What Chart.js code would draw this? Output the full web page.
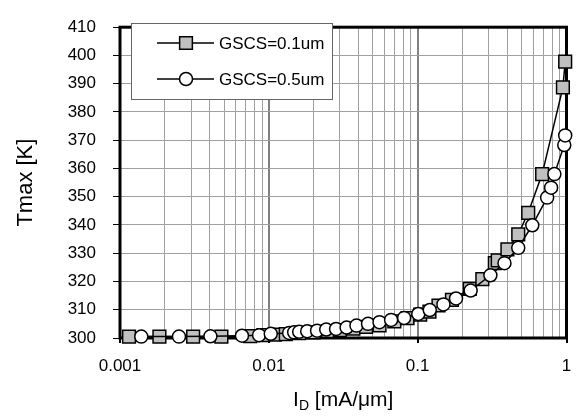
<!DOCTYPE html>
<html>
<head>
<meta charset="utf-8">
<script src="https://cdn.jsdelivr.net/npm/chart.js@4.4.1/dist/chart.umd.min.js"></script>
<style>
    html,body{margin:0;padding:0;background:#fff;}
    #wrap{width:577px;height:416px;}
</style>
</head>
<body>
<div id="wrap"><canvas id="myChart" width="577" height="416"></canvas></div>
<script>
// tick labels
var xTickLabels = [0.001, 0.01, 0.1, 1];
var yTickLabels = [300, 310, 320, 330, 340, 350, 360, 370, 380, 390, 400, 410];

// GSCS=0.1um (squares)
var idSquare = [0.00115, 0.00184, 0.0031, 0.0048, 0.0075, 0.0092, 0.011, 0.013, 0.016, 0.02, 0.025, 0.03, 0.037, 0.045,
    0.0554, 0.0697, 0.0855, 0.104, 0.12, 0.138, 0.17, 0.224, 0.272, 0.33, 0.345, 0.401, 0.474, 0.553, 0.686, 0.946, 0.98];
var tSquare = [300.5, 300.5, 300.5, 300.5, 300.7, 301.0, 301.2, 301.4, 301.7, 302.0, 302.4, 302.8, 303.3, 303.9,
    304.5, 305.9, 307.0, 308.3, 309.3, 311.5, 313.5, 317.4, 320.8, 326.5, 327.5, 331.4, 336.7, 344.3, 358.0, 388.7, 397.8];

// GSCS=0.5um (circles)
var idCircle = [0.00139, 0.00249, 0.00405, 0.0066, 0.0086, 0.0103, 0.0137, 0.0148, 0.016, 0.0181, 0.0211, 0.0243, 0.0283,
    0.0333, 0.0388, 0.0464, 0.0554, 0.0663, 0.0811, 0.101, 0.1206, 0.149, 0.181, 0.227, 0.308, 0.383, 0.474, 0.589,
    0.741, 0.788, 0.829, 0.966, 0.98];
var tCircle = [300.5, 300.5, 300.6, 300.8, 301.0, 301.5, 301.8, 302.0, 302.2, 302.4, 302.6, 303.0, 303.2,
    303.7, 304.4, 305.0, 305.6, 306.4, 307.1, 308.5, 309.9, 311.9, 314.0, 316.8, 322.2, 326.5, 331.9, 339.9,
    349.7, 353.2, 358.0, 368.3, 371.7];

var FONT = "'Liberation Sans', Arial, sans-serif";

function toPoints(xs, ys){
    var pts = [];
    for(var i = 0; i < xs.length; i++){
        pts.push({x: xs[i], y: ys[i]});
    }
    return pts;
}
function isDecade(v){
    for(var i = 0; i < xTickLabels.length; i++){
        if(Math.abs(v - xTickLabels[i]) < xTickLabels[i] * 1e-6) return true;
    }
    return false;
}

// black frame round the plot, under the markers
var framePlugin = {
    id: 'frame',
    beforeDatasetsDraw: function(chart){
        var a = chart.chartArea, ctx = chart.ctx;
        ctx.save();
        ctx.strokeStyle = '#000';
        ctx.lineWidth = 3;
        ctx.strokeRect(a.left, a.top, a.right - a.left, a.bottom - a.top);
        ctx.restore();
    }
};

// excel style legend (line through marker) and the x title with subscript
var legendPlugin = {
    id: 'xlLegend',
    afterDraw: function(chart){
        var ctx = chart.ctx;
        ctx.save();
        ctx.fillStyle = '#fff';
        ctx.strokeStyle = '#666';
        ctx.lineWidth = 1;
        ctx.fillRect(131.5, 23.5, 201, 76);
        ctx.strokeRect(131.5, 23.5, 201, 76);
        var rows = [43, 79];
        chart.data.datasets.forEach(function(ds, i){
            var y = rows[i];
            ctx.strokeStyle = '#000';
            ctx.lineWidth = 1.5;
            ctx.beginPath(); ctx.moveTo(157, y); ctx.lineTo(214, y); ctx.stroke();
            ctx.fillStyle = ds.pointBackgroundColor;
            ctx.beginPath();
            if(ds.pointStyle === 'rect'){
                var s = Math.SQRT1_2 * ds.pointRadius;
                ctx.rect(186 - s, y - s, 2 * s, 2 * s);
            }else{
                ctx.arc(186, y, ds.pointRadius, 0, Math.PI * 2);
            }
            ctx.fill(); ctx.stroke();
            ctx.fillStyle = '#000';
            ctx.font = '17px ' + FONT;
            ctx.textBaseline = 'middle';
            ctx.textAlign = 'left';
            ctx.fillText(ds.label, 219, y + 1);
        });

        // x title: I_D [mA/um]
        var a = chart.chartArea;
        var cx = (a.left + a.right) / 2, base = 406;
        var big = '21px ' + FONT, small = '14px ' + FONT;
        ctx.font = big; var w1 = ctx.measureText('I').width;
        ctx.font = small; var w2 = ctx.measureText('D').width;
        ctx.font = big; var w3 = ctx.measureText(' [mA/\u03bcm]').width;
        var x0 = cx - (w1 + w2 + w3) / 2;
        ctx.textBaseline = 'alphabetic';
        ctx.font = big; ctx.fillText('I', x0, base);
        ctx.font = small; ctx.fillText('D', x0 + w1, base + 4);
        ctx.font = big; ctx.fillText(' [mA/\u03bcm]', x0 + w1 + w2, base);
        ctx.restore();
    }
};

new Chart(document.getElementById('myChart').getContext('2d'), {
    type: 'scatter',
    data: {
        datasets: [{
            label: 'GSCS=0.1um',
            data: toPoints(idSquare, tSquare),
            showLine: true,
            borderColor: '#000',
            borderWidth: 1.5,
            pointStyle: 'rect',
            pointRadius: 9,
            pointHoverRadius: 9,
            pointBackgroundColor: '#c0c0c0',
            pointBorderColor: '#000',
            pointBorderWidth: 1.5,
            clip: false,
            order: 1
        }, {
            label: 'GSCS=0.5um',
            data: toPoints(idCircle, tCircle),
            showLine: true,
            borderColor: '#000',
            borderWidth: 1.5,
            pointStyle: 'circle',
            pointRadius: 6.5,
            pointHoverRadius: 6.5,
            pointBackgroundColor: '#fff',
            pointBorderColor: '#000',
            pointBorderWidth: 1.5,
            clip: false,
            order: 0
        }]
    },
    options: {
        responsive: false,
        devicePixelRatio: 1,
        animation: false,
        layout: {padding: {top: 17, right: 4, left: 0, bottom: 0}},
        plugins: {legend: {display: false}, tooltip: {enabled: false}},
        scales: {
            x: {
                type: 'logarithmic',
                min: 0.001,
                max: 1,
                afterBuildTicks: function(scale){
                    var t = [];
                    for(var d = 0; d < xTickLabels.length; d++){
                        for(var m = 1; m <= 9; m++){
                            var v = xTickLabels[d] * m;
                            if(v <= 1.0000001) t.push({value: v, major: m === 1});
                        }
                    }
                    scale.ticks = t;
                },
                afterFit: function(scale){
                    scale.height = 78;
                    scale.paddingLeft = 0;
                    scale.paddingRight = 0;
                },
                border: {display: false},
                grid: {
                    color: function(c){ return c.tick && isDecade(c.tick.value) ? '#808080' : '#a0a0a0'; },
                    lineWidth: function(c){ return c.tick && isDecade(c.tick.value) ? 2 : 1; },
                    tickColor: function(c){ return c.tick && isDecade(c.tick.value) ? '#000' : 'rgba(0,0,0,0)'; },
                    tickLength: 5
                },
                ticks: {
                    autoSkip: false,
                    maxRotation: 0,
                    padding: 13,
                    color: '#000',
                    font: {family: FONT, size: 17},
                    callback: function(v){ return isDecade(v) ? String(v) : ''; }
                }
            },
            y: {
                min: yTickLabels[0],
                max: yTickLabels[yTickLabels.length - 1],
                afterBuildTicks: function(scale){
                    scale.ticks = yTickLabels.map(function(v){ return {value: v}; });
                },
                afterFit: function(scale){ scale.width = 120; },
                border: {display: false},
                grid: {color: '#a0a0a0', lineWidth: 1, tickColor: '#000', tickLength: 7},
                ticks: {
                    padding: 17,
                    color: '#000',
                    font: {family: FONT, size: 17}
                },
                title: {
                    display: true,
                    text: 'Tmax [K]',
                    color: '#000',
                    font: {family: FONT, size: 22},
                    padding: {top: 13, bottom: 0}
                }
            }
        }
    },
    plugins: [framePlugin, legendPlugin]
});
</script>
</body>
</html>
